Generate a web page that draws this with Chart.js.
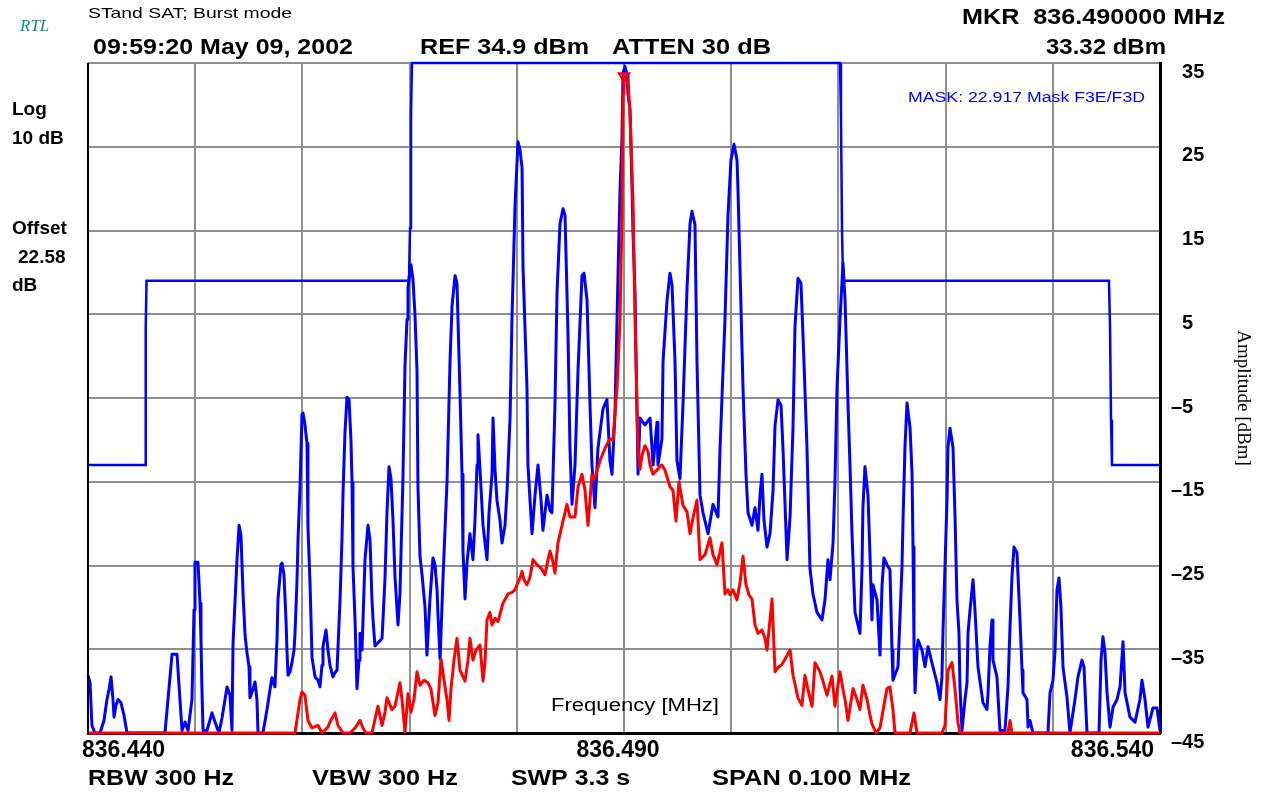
<!DOCTYPE html>
<html>
<head>
<meta charset="utf-8">
<script src="https://cdn.jsdelivr.net/npm/chart.js@4.4.1/dist/chart.umd.min.js"></script>
<style>
  html, body { margin: 0; padding: 0; background: #ffffff; overflow: hidden; }
  canvas { display: block; }
</style>
</head>
<body>
<canvas id="spectrum" width="1262" height="797"></canvas>
<script>
// Sweep settings
const START_MHZ = 836.440;      // left edge of the sweep
const SPAN_KHZ = 100;           // 0.100 MHz span
const REF_DBM = 34.9;           // reference level (top line)
const DB_PER_DIV = 10;
const DIVISIONS = 8;

// Axis tick labels
const xTickLabels = ['836.440', '836.490', '836.540'];
const yTickLabels = ['35', '25', '15', '5', '-5', '-15', '-25', '-35', '-45'];

// Marker readout
const markerKHz = 50.0;
const markerDBm = 33.32;

// Limit mask F3E/F3D: [offset from start in kHz, level in dBm]
const maskTrace = [
  [0.00, -13.1], [5.32, -13.1], [5.36, -7.7], [5.41, 3.4], [5.46, 8.9],
  [29.94, 8.9], [30.04, 15.2], [30.13, 28.5], [30.22, 34.9],
  [70.15, 34.9], [70.24, 28.5], [70.34, 14.7], [70.43, 8.9],
  [95.24, 8.9], [95.34, 3.4], [95.43, -7.7], [95.52, -13.1], [100.00, -13.1]
];

// Burst-mode max-hold trace (blue): [kHz from start, dBm]
const burstTrace = [
  [0.00,-38.2],[0.19,-39.1],[0.37,-44.2],[0.65,-45.1],[1.12,-45.1],[1.49,-43.6],[1.77,-41.1],[1.96,-39.9],
  [2.15,-38.4],[2.33,-41.1],[2.43,-43.2],[2.61,-41.8],[2.80,-41.1],[3.08,-41.5],[3.36,-43.0],[3.64,-45.1],
  [7.18,-45.1],[7.46,-41.1],[7.84,-35.7],[8.30,-35.7],[8.58,-41.1],[8.77,-44.8],[9.05,-43.8],[9.33,-44.8],
  [9.70,-41.1],[9.89,-30.4],[9.98,-24.7],[10.26,-24.7],[10.45,-29.6],[10.54,-34.0],[10.63,-39.9],[10.73,-44.8],
  [11.10,-44.8],[11.57,-42.7],[11.85,-43.8],[12.22,-45.1],[12.50,-43.3],[12.78,-41.1],[12.97,-39.6],[13.25,-40.6],
  [13.43,-44.8],[13.53,-34.4],[13.81,-26.8],[13.90,-24.4],[14.09,-20.3],[14.27,-21.5],[14.46,-28.4],[14.65,-33.4],
  [14.83,-35.5],[15.02,-37.2],[15.11,-40.9],[15.39,-39.9],[15.58,-39.0],[15.76,-41.1],[15.86,-45.1],[16.32,-45.1],
  [16.70,-42.3],[16.98,-39.9],[17.16,-38.5],[17.44,-39.6],[17.63,-34.0],[17.72,-29.2],[18.00,-25.0],[18.10,-24.8],
  [18.28,-26.2],[18.47,-31.6],[18.56,-35.2],[18.66,-38.2],[18.84,-37.8],[19.03,-36.7],[19.22,-35.2],[19.31,-33.2],
  [19.50,-26.8],[19.59,-22.1],[19.78,-15.7],[19.96,-7.1],[20.06,-6.9],[20.24,-8.3],[20.43,-10.5],[20.52,-20.5],
  [20.71,-27.2],[20.90,-36.1],[21.18,-38.4],[21.46,-38.8],[21.64,-39.6],[21.83,-37.0],[21.92,-34.8],[22.20,-32.8],
  [22.39,-35.2],[22.57,-37.0],[22.85,-38.4],[23.04,-37.9],[23.23,-37.6],[23.51,-29.2],[23.69,-22.1],[23.79,-16.4],
  [23.97,-9.3],[24.16,-5.0],[24.35,-5.3],[24.53,-10.1],[24.63,-15.2],[24.72,-25.3],[24.91,-31.6],[25.09,-39.8],
  [25.28,-36.4],[25.37,-33.2],[25.56,-35.2],[25.84,-24.4],[26.12,-20.3],[26.31,-22.1],[26.49,-29.2],[26.59,-31.6],
  [26.77,-34.7],[27.15,-34.2],[27.43,-33.8],[27.71,-26.5],[27.89,-18.8],[28.08,-13.3],[28.26,-14.7],[28.45,-19.7],
  [28.64,-26.5],[28.92,-32.2],[29.10,-28.5],[29.38,-14.7],[29.57,-1.3],[29.76,4.3],[29.85,8.0],[30.04,10.2],
  [30.13,10.8],[30.32,9.0],[30.50,4.9],[30.69,-1.8],[30.78,-15.7],[30.97,-24.0],[31.16,-26.2],[31.44,-30.1],
  [31.62,-35.8],[31.90,-29.1],[32.18,-24.2],[32.37,-25.0],[32.56,-28.0],[32.65,-31.1],[32.84,-36.3],[33.12,-26.5],
  [33.30,-20.9],[33.49,-15.1],[33.77,-0.8],[33.96,5.9],[34.24,9.5],[34.42,8.6],[34.70,-4.4],[34.89,-14.2],
  [34.98,-23.4],[35.17,-29.1],[35.35,-24.9],[35.63,-21.3],[35.91,-24.4],[36.10,-19.7],[36.29,-13.1],[36.38,-9.5],
  [36.57,-13.7],[36.85,-20.3],[37.22,-24.4],[37.41,-18.8],[37.69,-14.2],[37.78,-7.5],[37.97,-13.7],[38.15,-17.3],
  [38.43,-19.7],[38.62,-22.4],[38.90,-20.3],[39.09,-16.2],[39.37,-7.5],[39.55,4.3],[39.83,17.7],[40.11,25.5],
  [40.30,24.5],[40.49,22.4],[40.58,10.5],[40.95,-3.9],[41.04,-13.1],[41.42,-21.3],[41.70,-16.7],[41.98,-13.1],
  [42.26,-17.3],[42.44,-20.9],[42.82,-16.7],[43.10,-18.5],[43.28,-18.8],[43.56,-6.0],[43.75,7.4],[44.03,15.7],
  [44.31,17.5],[44.50,16.7],[44.78,2.3],[44.96,-11.1],[45.15,-17.8],[45.43,-13.1],[45.71,-1.8],[46.08,9.5],
  [46.27,9.8],[46.55,6.6],[46.83,-6.0],[47.01,-13.1],[47.29,-18.2],[47.57,-11.1],[48.04,-6.4],[48.41,-5.3],
  [48.69,-12.6],[48.88,-14.2],[49.16,-6.9],[49.44,9.5],[49.63,19.7],[49.81,25.9],[49.91,33.7],[50.09,34.5],
  [50.28,33.5],[50.37,31.2],[50.56,29.3],[50.75,19.9],[50.84,14.7],[51.03,7.4],[51.21,-6.9],[51.31,-14.2],
  [51.49,-7.5],[51.96,-8.3],[52.43,-7.5],[52.71,-13.1],[53.08,-8.0],[53.17,-13.1],[53.54,-10.0],[53.64,-0.8],
  [54.01,6.5],[54.29,9.8],[54.48,8.4],[54.76,-0.8],[54.94,-12.6],[55.22,-14.7],[55.50,-6.0],[55.88,8.0],
  [56.16,15.7],[56.34,17.2],[56.62,15.6],[56.81,-0.8],[57.09,-16.7],[57.37,-18.8],[57.84,-21.3],[58.30,-17.8],
  [58.77,-19.3],[58.96,-11.1],[59.42,4.3],[59.70,16.7],[59.98,23.3],[60.26,25.2],[60.54,23.3],[60.63,19.9],
  [60.82,10.5],[61.10,-3.9],[61.38,-14.2],[61.57,-18.8],[61.94,-20.3],[62.22,-18.2],[62.50,-20.9],[62.69,-16.7],
  [62.87,-14.2],[63.06,-19.7],[63.34,-22.9],[63.62,-21.3],[63.90,-16.2],[64.09,-8.4],[64.37,-5.3],[64.65,-6.0],
  [64.83,-11.1],[65.21,-24.4],[65.49,-19.3],[65.77,-8.4],[65.95,3.4],[66.23,9.2],[66.51,8.6],[66.79,-0.8],
  [67.07,-11.1],[67.35,-25.5],[67.63,-28.5],[68.00,-30.7],[68.47,-31.6],[68.75,-29.2],[69.03,-24.4],[69.22,-26.8],
  [69.50,-22.4],[69.68,-15.1],[69.87,-3.9],[70.15,4.3],[70.43,11.0],[70.62,6.6],[70.90,-6.0],[71.08,-13.1],
  [71.27,-21.3],[71.55,-30.7],[72.01,-33.2],[72.20,-25.5],[72.29,-18.2],[72.48,-13.3],[72.76,-16.7],[72.95,-24.0],
  [73.13,-31.6],[73.23,-27.4],[73.60,-29.2],[73.88,-35.8],[74.07,-27.5],[74.25,-24.2],[74.53,-25.0],[74.81,-25.6],
  [75.00,-35.2],[75.09,-38.8],[75.56,-37.2],[75.93,-25.3],[76.03,-19.7],[76.21,-11.0],[76.40,-5.7],[76.68,-8.6],
  [76.87,-14.1],[76.96,-22.9],[77.05,-34.4],[77.15,-40.3],[77.33,-35.2],[77.43,-34.0],[77.80,-35.2],[78.08,-37.2],
  [78.36,-34.8],[78.82,-37.2],[79.20,-39.1],[79.48,-41.1],[79.66,-38.4],[79.76,-32.8],[79.94,-25.3],[80.13,-17.3],
  [80.22,-11.0],[80.41,-8.7],[80.69,-11.0],[80.88,-19.3],[81.06,-29.2],[81.25,-33.2],[81.34,-39.6],[81.53,-44.8],
  [81.81,-41.1],[82.00,-39.1],[82.09,-33.2],[82.28,-30.4],[82.56,-26.8],[82.74,-30.4],[83.02,-37.2],[83.49,-41.5],
  [83.86,-42.3],[83.96,-40.3],[84.14,-34.8],[84.33,-31.6],[84.42,-36.4],[84.79,-38.4],[85.07,-44.8],[85.54,-44.8],
  [85.82,-39.6],[86.01,-32.4],[86.19,-26.5],[86.38,-22.9],[86.66,-23.6],[86.94,-31.6],[87.13,-37.6],[87.22,-40.3],
  [87.59,-41.1],[87.69,-44.4],[87.87,-43.6],[88.15,-45.1],[89.55,-45.1],[89.74,-40.3],[90.02,-38.8],[90.21,-35.2],
  [90.39,-28.0],[90.58,-26.6],[90.76,-30.1],[90.95,-37.2],[91.32,-40.8],[91.60,-45.1],[92.07,-41.1],[92.35,-38.4],
  [92.72,-36.4],[92.91,-37.2],[93.19,-45.1],[94.31,-45.1],[94.50,-36.4],[94.68,-33.6],[94.87,-35.5],[95.06,-40.3],
  [95.34,-44.4],[95.62,-42.0],[95.99,-41.1],[96.27,-39.6],[96.55,-34.2],[96.74,-40.3],[97.20,-43.2],[97.67,-43.8],
  [98.13,-41.1],[98.32,-38.8],[98.60,-41.1],[98.88,-44.4],[99.35,-42.1],[99.72,-42.1],[100.00,-44.8]
];

// Carrier trace (red): [kHz from start, dBm]
const carrierTrace = [
  [0.00,-45.1],[19.31,-45.1],[19.78,-41.1],[19.96,-40.2],[20.24,-40.6],[20.52,-43.6],[20.90,-44.5],[21.46,-44.2],
  [21.83,-45.1],[22.39,-44.4],[22.57,-43.8],[23.04,-42.7],[23.32,-44.2],[23.79,-45.1],[24.44,-45.1],[24.91,-44.5],
  [25.37,-43.6],[25.65,-44.5],[25.93,-45.1],[26.49,-45.1],[27.05,-41.9],[27.43,-44.2],[27.71,-42.6],[27.89,-40.9],
  [28.36,-42.3],[28.64,-41.9],[29.10,-39.1],[29.29,-41.1],[29.57,-45.0],[29.85,-40.4],[30.13,-42.6],[30.41,-41.1],
  [30.69,-37.8],[30.97,-39.4],[31.34,-38.8],[31.72,-39.1],[32.00,-39.9],[32.37,-43.0],[32.65,-41.5],[32.93,-36.3],
  [33.21,-38.8],[33.49,-41.1],[33.68,-43.6],[33.86,-39.9],[34.14,-36.4],[34.42,-33.8],[34.70,-37.6],[35.17,-38.9],
  [35.45,-36.4],[35.63,-33.8],[35.91,-36.4],[36.19,-35.2],[36.57,-34.6],[36.85,-38.9],[37.03,-36.7],[37.22,-31.6],
  [37.50,-30.7],[37.69,-32.2],[37.97,-31.4],[38.25,-31.8],[38.71,-29.6],[39.18,-28.5],[39.55,-28.3],[39.83,-28.0],
  [40.11,-27.1],[40.30,-26.6],[40.49,-25.8],[40.67,-26.8],[40.95,-27.4],[41.23,-26.5],[41.51,-24.4],[41.88,-25.0],
  [42.26,-25.4],[42.63,-26.2],[42.91,-24.4],[43.10,-23.4],[43.38,-24.7],[43.56,-26.0],[43.84,-22.4],[44.31,-19.8],
  [44.68,-17.8],[44.96,-19.3],[45.43,-19.3],[45.71,-15.7],[46.08,-14.2],[46.36,-16.1],[46.64,-20.3],[46.83,-17.3],
  [47.01,-14.2],[47.29,-14.7],[47.76,-12.6],[48.23,-11.1],[48.69,-10.0],[48.97,-10.1],[49.35,-3.9],[49.63,4.3],
  [49.81,16.3],[49.91,31.2],[50.00,33.32],[50.37,32.9],[50.56,29.0],[50.84,18.3],[51.03,4.3],[51.21,-6.0],
  [51.31,-11.1],[51.49,-13.6],[51.68,-11.9],[51.96,-10.8],[52.24,-11.5],[52.43,-13.1],[52.71,-14.2],[53.08,-13.7],
  [53.36,-13.3],[53.54,-13.1],[53.82,-13.7],[54.29,-15.7],[54.57,-16.1],[54.85,-19.8],[55.13,-15.1],[55.50,-17.9],
  [55.88,-18.7],[56.16,-21.3],[56.44,-19.4],[56.81,-17.3],[57.09,-24.4],[57.56,-23.8],[58.02,-21.8],[58.30,-23.8],
  [58.68,-25.0],[59.14,-22.4],[59.42,-28.5],[59.70,-28.0],[59.89,-28.6],[60.17,-28.0],[60.54,-29.2],[60.82,-27.2],
  [61.10,-24.0],[61.38,-27.4],[61.66,-28.6],[61.94,-29.1],[62.22,-32.2],[62.50,-33.2],[62.87,-32.8],[63.15,-33.8],
  [63.34,-35.2],[63.62,-31.6],[63.81,-29.1],[64.09,-37.8],[64.37,-37.3],[64.74,-36.9],[65.02,-36.3],[65.49,-35.2],
  [65.77,-38.2],[66.23,-40.9],[66.60,-41.8],[66.88,-38.2],[67.16,-39.9],[67.54,-41.9],[67.82,-36.7],[68.28,-37.8],
  [68.56,-38.9],[68.94,-40.6],[69.40,-38.3],[69.68,-41.9],[69.96,-39.4],[70.15,-37.8],[70.43,-39.9],[70.62,-41.1],
  [70.90,-43.6],[71.36,-39.8],[71.74,-41.1],[72.01,-42.3],[72.29,-39.4],[72.67,-41.1],[72.95,-43.0],[73.13,-44.0],
  [73.51,-45.1],[73.88,-44.5],[74.25,-41.8],[74.53,-39.8],[74.81,-39.6],[75.09,-42.3],[75.28,-45.1],[76.68,-45.1],
  [77.05,-42.7],[77.33,-45.1],[79.66,-45.1],[79.94,-44.2],[80.22,-37.6],[80.60,-36.7],[80.88,-39.9],[81.16,-43.9],
  [81.34,-45.1],[85.82,-45.1],[86.01,-43.6],[86.19,-45.1],[100.00,-45.1]
];

const toPoints = (trace) => trace.map(([kHz, dBm]) => ({ x: START_MHZ + kHz / 1000, y: dBm }));

const BOTTOM_DBM = REF_DBM - DB_PER_DIV * DIVISIONS;
const STOP_MHZ = START_MHZ + SPAN_KHZ / 1000;

// Draws text stretched horizontally to a given width
function fitText(ctx, str, x, y, width, font, color) {
  ctx.save();
  ctx.font = font;
  ctx.fillStyle = color;
  ctx.textBaseline = 'middle';
  ctx.textAlign = 'left';
  const w = ctx.measureText(str).width;
  ctx.translate(x, y);
  ctx.scale(width / w, 1);
  ctx.fillText(str, 0, 0);
  ctx.restore();
}

function plainText(ctx, str, x, y, font, color) {
  ctx.save();
  ctx.font = font;
  ctx.fillStyle = color;
  ctx.textBaseline = 'middle';
  ctx.textAlign = 'left';
  ctx.fillText(str, x, y);
  ctx.restore();
}

const analyzerScreen = {
  id: 'analyzerScreen',
  beforeDraw(chart) {
    const ctx = chart.ctx;
    ctx.save();
    ctx.fillStyle = '#ffffff';
    ctx.fillRect(0, 0, chart.width, chart.height);
    ctx.restore();
  },
  afterDraw(chart) {
    const ctx = chart.ctx;
    const a = chart.chartArea;
    // left edge of the graticule frame
    ctx.save();
    ctx.strokeStyle = '#000000';
    ctx.lineWidth = 2;
    ctx.beginPath();
    ctx.moveTo(a.left, a.top);
    ctx.lineTo(a.left, a.bottom + 1);
    ctx.stroke();
    ctx.restore();

    const sans = "'Liberation Sans', Arial, sans-serif";
    // header
    plainText(ctx, 'RTL', 20, 27, "italic 17px 'Liberation Serif', serif", '#138a8a');
    fitText(ctx, 'STand SAT; Burst mode', 88, 14, 204, '15px ' + sans, '#000');
    fitText(ctx, '09:59:20 May 09, 2002', 93, 48, 260, 'bold 22px ' + sans, '#000');
    fitText(ctx, 'REF 34.9 dBm', 420, 48, 169, 'bold 22px ' + sans, '#000');
    fitText(ctx, 'ATTEN 30 dB', 612, 48, 159, 'bold 22px ' + sans, '#000');
    fitText(ctx, 'MKR  836.490000 MHz', 962, 18, 263, 'bold 22px ' + sans, '#000');
    fitText(ctx, '33.32 dBm', 1046, 48, 120, 'bold 22px ' + sans, '#000');
    // display settings on the left
    plainText(ctx, 'Log', 12, 110, 'bold 19px ' + sans, '#000');
    plainText(ctx, '10 dB', 12, 139, 'bold 19px ' + sans, '#000');
    plainText(ctx, 'Offset', 12, 229, 'bold 19px ' + sans, '#000');
    plainText(ctx, '22.58', 18, 258, 'bold 19px ' + sans, '#000');
    plainText(ctx, 'dB', 12, 286, 'bold 19px ' + sans, '#000');
    // mask caption and frequency label inside the graticule
    fitText(ctx, 'MASK: 22.917 Mask F3E/F3D', 908, 98, 237, '14px ' + sans, '#0000ff');
    fitText(ctx, 'Frequency [MHz]', 551, 706, 168, '18px ' + sans, '#000');
    // bandwidth / sweep settings
    fitText(ctx, 'RBW 300 Hz', 88, 779, 146, 'bold 22px ' + sans, '#000');
    fitText(ctx, 'VBW 300 Hz', 312, 779, 146, 'bold 22px ' + sans, '#000');
    fitText(ctx, 'SWP 3.3 s', 511, 779, 119, 'bold 22px ' + sans, '#000');
    fitText(ctx, 'SPAN 0.100 MHz', 712, 779, 199, 'bold 22px ' + sans, '#000');
  }
};

const canvas = document.getElementById('spectrum');
new Chart(canvas, {
  type: 'scatter',
  data: {
    datasets: [
      {
        label: 'Marker',
        data: [{ x: START_MHZ + markerKHz / 1000, y: markerDBm }],
        showLine: false,
        pointStyle: 'triangle',
        rotation: 180,
        pointRadius: 6,
        pointBorderWidth: 2,
        pointBorderColor: '#ff0000',
        pointBackgroundColor: 'rgba(255,0,0,0.25)',
        clip: false,
        order: 0
      },
      {
        label: 'Carrier',
        data: toPoints(carrierTrace),
        showLine: true,
        borderColor: '#ff0000',
        borderWidth: 3,
        borderJoinStyle: 'round',
        pointRadius: 0,
        clip: false,
        order: 1
      },
      {
        label: 'Burst',
        data: toPoints(burstTrace),
        showLine: true,
        borderColor: '#0000ff',
        borderWidth: 3,
        borderJoinStyle: 'round',
        pointRadius: 0,
        clip: false,
        order: 2
      },
      {
        label: 'Mask',
        data: toPoints(maskTrace),
        showLine: true,
        borderColor: '#0000ff',
        borderWidth: 2.5,
        pointRadius: 0,
        clip: false,
        order: 3
      }
    ]
  },
  options: {
    responsive: false,
    animation: false,
    devicePixelRatio: 1,
    layout: { padding: { left: 88, top: 63, right: 0, bottom: 0 } },
    plugins: {
      legend: { display: false },
      tooltip: { enabled: false }
    },
    scales: {
      x: {
        type: 'linear',
        position: 'bottom',
        min: START_MHZ,
        max: STOP_MHZ,
        afterBuildTicks: (scale) => {
          const ticks = [];
          for (let i = 0; i <= 10; i++) ticks.push({ value: START_MHZ + i * SPAN_KHZ / 10000 });
          scale.ticks = ticks;
        },
        afterFit: (scale) => { scale.height = 64; },
        grid: { color: '#8f8f8f', lineWidth: 2, drawTicks: false },
        border: { display: true, color: '#000000', width: 3 },
        ticks: {
          autoSkip: false,
          maxRotation: 0,
          align: 'inner',
          labelOffset: -6,
          padding: 4,
          color: '#000000',
          font: { family: "'Liberation Sans', Arial, sans-serif", size: 23, weight: 'bold' },
          callback: (value, index) => (index % 5 === 0 ? xTickLabels[index / 5] : '')
        }
      },
      y: {
        type: 'linear',
        position: 'right',
        min: BOTTOM_DBM,
        max: REF_DBM,
        afterBuildTicks: (scale) => {
          const ticks = [];
          for (let i = DIVISIONS; i >= 0; i--) ticks.push({ value: REF_DBM - i * DB_PER_DIV });
          scale.ticks = ticks;
        },
        afterFit: (scale) => { scale.width = 102; },
        grid: { color: '#8f8f8f', lineWidth: 2, drawTicks: false },
        border: { display: true, color: '#000000', width: 3 },
        ticks: {
          padding: 11,
          labelOffset: 9,
          color: '#000000',
          font: { family: "'Liberation Sans', Arial, sans-serif", size: 20, weight: 'bold' },
          callback: (value, index) => {
            const label = yTickLabels[DIVISIONS - index];
            return label.startsWith('-') ? '\u2013' + label.slice(1) : '\u2007' + label;
          }
        },
        title: {
          display: true,
          text: 'Amplitude [dBm]',
          color: '#000000',
          padding: { top: 8, bottom: 0 },
          font: { family: "'Liberation Serif', 'Times New Roman', serif", size: 19, weight: 'normal' }
        }
      }
    }
  },
  plugins: [analyzerScreen]
});
</script>
</body>
</html>
